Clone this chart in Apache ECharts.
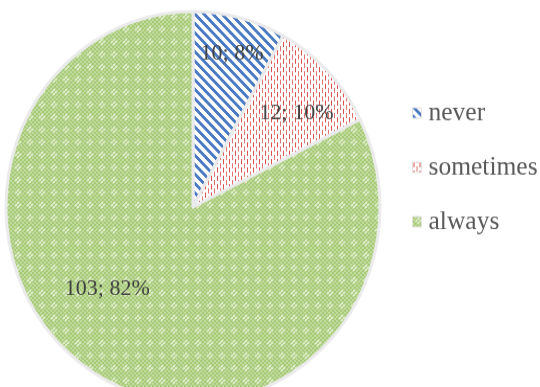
<!DOCTYPE html>
<html>
<head>
<meta charset="utf-8">
<script src="https://cdn.jsdelivr.net/npm/echarts@6/dist/echarts.min.js"></script>
<style>
html,body{margin:0;padding:0;background:#fff;}
#wrap{width:540px;height:387px;overflow:hidden;position:relative;}
#c{width:540px;height:370px;transform:scaleY(1.0459);transform-origin:0 0;}
</style>
</head>
<body>
<div id="wrap"><div id="c"></div></div>
<script>
// ---- data ----
const categories = ['never', 'sometimes', 'always'];
const counts = [10, 12, 103];

// ---- patterns ----
function tile(w, h, draw) {
  const cv = document.createElement('canvas');
  cv.width = w; cv.height = h;
  const ctx = cv.getContext('2d');
  draw(ctx, w, h);
  return cv;
}
const bluePat = tile(9, 9, (ctx, w, h) => {
  ctx.fillStyle = '#ffffff'; ctx.fillRect(0, 0, w, h);
  ctx.fillStyle = '#4a7bc4';
  for (let y = 0; y < h; y++) for (let x = 0; x < w; x++) {
    if (((x - y) % w + w) % w < 4) ctx.fillRect(x, y, 1, 1);
  }
});
const redPat = tile(6, 8, (ctx, w, h) => {
  ctx.fillStyle = '#ffffff'; ctx.fillRect(0, 0, w, h);
  ctx.fillStyle = '#d9534f';
  ctx.fillRect(1, 0, 1, 5);
  ctx.fillStyle = '#e07370';
  ctx.fillRect(4, 4, 1, 5);
  ctx.fillRect(4, 0, 1, 1);
});
const greenPat = tile(12, 12, (ctx, w, h) => {
  for (let y = 0; y < h; y += 2) for (let x = 0; x < w; x += 2) {
    ctx.fillStyle = ((x + y) / 2) % 2 === 0 ? '#a6ca75' : '#c2dba0';
    ctx.fillRect(x, y, 2, 2);
  }
  ctx.fillStyle = '#dcebc8';
  ctx.fillRect(5, 1, 2, 2); ctx.fillRect(3, 3, 2, 2); ctx.fillRect(7, 3, 2, 2); ctx.fillRect(5, 5, 2, 2);
});
const fills = [bluePat, redPat, greenPat];
const labelShift = [[15, -53], [34, -23], [-35, -4]];

const chart = echarts.init(document.getElementById('c'), null, {renderer: 'canvas'});
chart.setOption({
  animation: false,
  legend: {
    orient: 'vertical',
    left: 407,
    top: 90,
    itemWidth: 9,
    itemHeight: 10,
    itemGap: 26,
    icon: 'rect',
    itemStyle: {borderWidth: 1, borderColor: '#e2e2e2'},
    textStyle: {
      fontFamily: "'Liberation Serif', 'Times New Roman', serif",
      fontSize: 25.5,
      color: '#595959',
      padding: [0, 0, 0, 2]
    },
    data: categories
  },
  series: [{
    type: 'pie',
    center: [193, 198],
    radius: 187,
    startAngle: 90,
    clockwise: true,
    avoidLabelOverlap: false,
    itemStyle: {borderColor: '#ebebeb', borderWidth: 3},
    label: {
      show: true,
      position: 'inside',
      fontFamily: "'Liberation Serif', 'Times New Roman', serif",
      fontSize: 22,
      color: '#404040',
      formatter: p => p.value + '; ' + Math.round(p.percent) + '%'
    },
    labelLine: {show: false},
    labelLayout: p => ({dx: labelShift[p.dataIndex][0], dy: labelShift[p.dataIndex][1]}),
    emphasis: {disabled: true},
    data: categories.map((n, i) => ({
      name: n,
      value: counts[i],
      itemStyle: {color: {image: fills[i], repeat: 'repeat'}}
    }))
  }]
});
</script>
</body>
</html>
